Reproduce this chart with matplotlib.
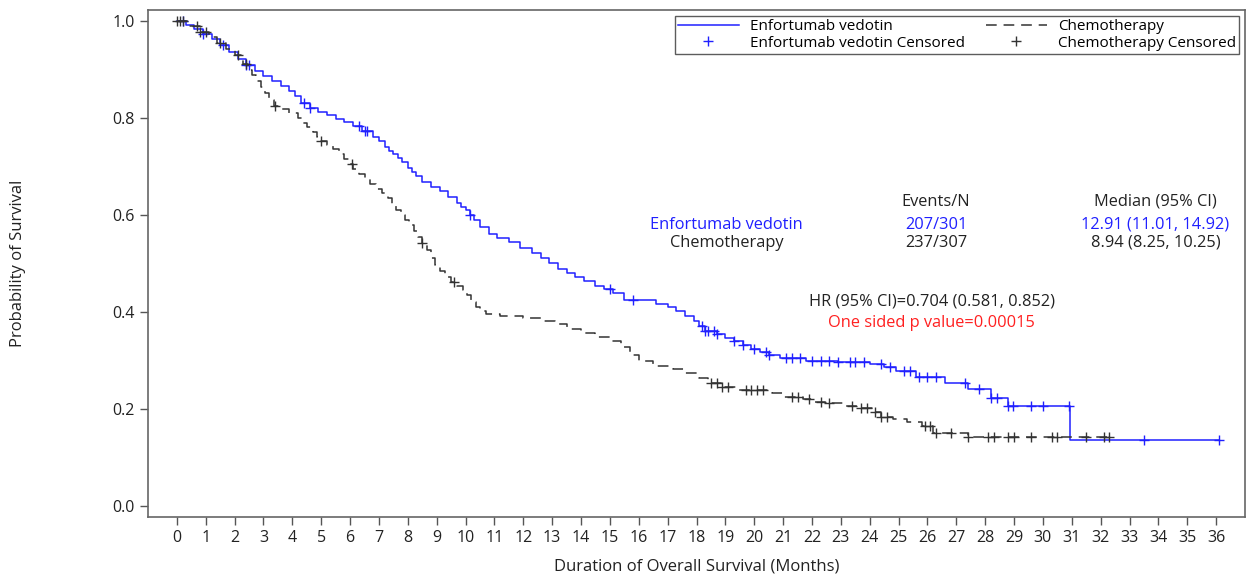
import matplotlib.pyplot as plt
import numpy as np

plt.rcParams['font.family'] = ['Open Sans', 'DejaVu Sans']

# Kaplan-Meier steps (months, survival)
ev_t = [0, 0.3, 0.6, 0.9, 1.2, 1.5, 1.8, 2.1, 2.4, 2.7, 3.0, 3.3, 3.6, 3.9, 4.1, 4.3, 4.6, 4.9,
        5.2, 5.5, 5.8, 6.1, 6.4, 6.8, 7.0, 7.2, 7.35, 7.5, 7.65, 7.8, 8.0, 8.15, 8.3, 8.5, 8.8,
        9.1, 9.4, 9.7, 9.85, 10.0, 10.15, 10.3, 10.5, 10.8, 11.1, 11.5, 11.9, 12.3, 12.6, 12.9,
        13.2, 13.5, 13.8, 14.1, 14.5, 14.8, 15.1, 15.5, 16.6, 17.0, 17.3, 17.6, 17.9, 18.1,
        18.3, 18.7, 19.0, 19.3, 19.6, 19.9, 20.2, 20.5, 20.9, 21.8, 22.9, 24.0, 24.5, 24.9,
        25.6, 26.6, 27.4, 28.2, 28.8, 30.94]
ev_s = [1.0, 0.993, 0.983, 0.973, 0.963, 0.95, 0.937, 0.923, 0.91, 0.897, 0.887, 0.877, 0.867,
        0.857, 0.845, 0.832, 0.82, 0.812, 0.806, 0.799, 0.792, 0.784, 0.773, 0.762, 0.752, 0.74,
        0.733, 0.726, 0.718, 0.71, 0.698, 0.69, 0.681, 0.668, 0.658, 0.65, 0.638, 0.625, 0.618,
        0.61, 0.6, 0.59, 0.575, 0.562, 0.553, 0.545, 0.533, 0.522, 0.512, 0.501, 0.49, 0.481,
        0.472, 0.465, 0.455, 0.448, 0.44, 0.426, 0.418, 0.41, 0.402, 0.393, 0.383, 0.372, 0.362,
        0.355, 0.348, 0.34, 0.333, 0.325, 0.318, 0.312, 0.306, 0.3, 0.298, 0.293, 0.287, 0.278,
        0.267, 0.255, 0.241, 0.224, 0.206, 0.136]
ev_end = 36.1

ch_t = [0, 0.4, 0.8, 1.1, 1.4, 1.7, 2.0, 2.3, 2.45, 2.6, 2.75, 2.9, 3.05, 3.2, 3.35, 3.6, 3.9,
        4.2, 4.35, 4.5, 4.7, 4.85, 5.0, 5.2, 5.4, 5.6, 5.8, 5.95, 6.1, 6.3, 6.5, 6.7, 6.9, 7.1,
        7.3, 7.45, 7.6, 7.75, 7.9, 8.05, 8.2, 8.35, 8.5, 8.65, 8.8, 8.95, 9.1, 9.3, 9.5, 9.7,
        9.9, 10.05, 10.2, 10.35, 10.5, 10.7, 11.2, 12.0, 12.6, 13.1, 13.5, 14.0, 14.5, 15.0,
        15.4, 15.7, 16.0, 16.5, 17.2, 17.6, 18.1, 18.4, 18.9, 19.4, 20.6, 21.0, 21.7, 22.1,
        22.6, 23.1, 23.6, 24.1, 24.4, 24.8, 25.3, 25.8, 26.2, 27.4]
ch_s = [1.0, 0.99, 0.978, 0.968, 0.955, 0.943, 0.93, 0.912, 0.9, 0.89, 0.877, 0.864, 0.852,
        0.838, 0.826, 0.818, 0.81, 0.8, 0.79, 0.782, 0.772, 0.762, 0.752, 0.745, 0.736, 0.726,
        0.715, 0.705, 0.695, 0.685, 0.676, 0.665, 0.655, 0.645, 0.635, 0.622, 0.611, 0.6, 0.59,
        0.58, 0.568, 0.555, 0.543, 0.528, 0.512, 0.497, 0.485, 0.473, 0.462, 0.455, 0.445,
        0.435, 0.422, 0.41, 0.402, 0.396, 0.393, 0.388, 0.382, 0.376, 0.366, 0.358, 0.35, 0.34,
        0.328, 0.312, 0.3, 0.29, 0.283, 0.275, 0.265, 0.255, 0.247, 0.24, 0.233, 0.226, 0.221,
        0.216, 0.212, 0.207, 0.203, 0.195, 0.185, 0.179, 0.173, 0.165, 0.152, 0.143]
ch_end = 32.4

ev_cens = [0.2, 0.9, 1.6, 2.4, 2.5, 4.4, 4.6, 6.3, 6.5, 6.6, 10.15, 15.0, 15.8, 18.2, 18.3, 18.4,
           18.6, 18.7, 19.3, 19.6, 20.0, 20.4, 20.5, 21.1, 21.3, 21.6, 22.0, 22.3, 22.6, 22.9,
           23.3, 23.5, 23.8, 24.4, 24.7, 25.2, 25.4, 25.7, 26.0, 26.3, 27.3, 27.8, 28.2, 28.4,
           28.8, 28.95, 29.6, 30.0, 30.9, 33.5, 36.1]
ch_cens = [0.0, 0.1, 0.2, 0.7, 0.8, 1.0, 1.5, 2.1, 2.4, 3.4, 5.0, 6.05, 8.5, 9.6, 18.5, 18.7,
           18.9, 19.1, 19.7, 19.9, 20.1, 20.3, 21.3, 21.5, 21.9, 22.3, 22.6, 23.4, 23.7, 23.9,
           24.2, 24.4, 24.6, 25.9, 26.1, 26.3, 26.8, 27.4, 28.1, 28.3, 28.8, 29.0, 29.6, 30.3,
           30.5, 31.5, 32.1, 32.3]


def surv_at(t_steps, s_steps, times):
    idx = np.searchsorted(t_steps, times, side='right') - 1
    return np.array(s_steps)[np.clip(idx, 0, None)]


blue = '#2020ff'
dark = '#333333'

fig = plt.figure(figsize=(12.47, 5.78), dpi=100)
ax = fig.add_axes([0.1187, 0.1055, 0.8797, 0.8772])

ax.step(ev_t + [ev_end], ev_s + [ev_s[-1]], where='post', color=blue, lw=1.1,
        label='Enfortumab vedotin')
ax.plot(ev_cens, surv_at(ev_t, ev_s, ev_cens), ls='none', marker='+', ms=7, mew=1.0,
        color=blue, label='Enfortumab vedotin Censored')
ax.step(ch_t + [ch_end], ch_s + [ch_s[-1]], where='post', color=dark, lw=1.1,
        dashes=(7, 4.5), label='Chemotherapy')
ax.plot(ch_cens, surv_at(ch_t, ch_s, ch_cens), ls='none', marker='+', ms=7, mew=1.0,
        color=dark, label='Chemotherapy Censored')

ax.set_xlim(-1, 37)
ax.set_ylim(-0.022, 1.023)
ax.set_xticks(range(0, 37))
ax.set_yticks([0.0, 0.2, 0.4, 0.6, 0.8, 1.0])
ax.set_yticklabels(['0.0', '0.2', '0.4', '0.6', '0.8', '1.0'])
ax.tick_params(direction='out', length=6, width=1, colors='#555555', labelcolor='#222222',
               labelsize=11.5)
for sp in ax.spines.values():
    sp.set_color('#666666')
    sp.set_linewidth(1.2)

ax.set_xlabel('Duration of Overall Survival (Months)', fontsize=12, color='#222222',
              labelpad=9)
ax.set_ylabel('Probability of Survival', fontsize=12, color='#222222', labelpad=62)

# statistics table
fs = 11.8
ax.text(26.3, 0.628, 'Events/N', ha='center', va='center', fontsize=fs, color='#222222')
ax.text(33.9, 0.628, 'Median (95% CI)', ha='center', va='center', fontsize=fs, color='#222222')
ax.text(19.05, 0.58, 'Enfortumab vedotin', ha='center', va='center', fontsize=fs, color=blue)
ax.text(26.3, 0.58, '207/301', ha='center', va='center', fontsize=fs, color=blue)
ax.text(33.9, 0.58, '12.91 (11.01, 14.92)', ha='center', va='center', fontsize=fs, color=blue)
ax.text(19.05, 0.543, 'Chemotherapy', ha='center', va='center', fontsize=fs, color='#222222')
ax.text(26.3, 0.543, '237/307', ha='center', va='center', fontsize=fs, color='#222222')
ax.text(33.9, 0.543, '8.94 (8.25, 10.25)', ha='center', va='center', fontsize=fs,
        color='#222222')
ax.text(26.15, 0.422, 'HR (95% CI)=0.704 (0.581, 0.852)', ha='center', va='center',
        fontsize=fs, color='#222222')
ax.text(26.15, 0.377, 'One sided p value=0.00015', ha='center', va='center', fontsize=fs,
        color='#ff2020')

leg = ax.legend(loc='upper right', ncol=2, fontsize=11, frameon=True, fancybox=False,
                edgecolor='#333333', borderaxespad=0.4, handlelength=4.0, columnspacing=1.4,
                borderpad=0.2, labelspacing=0.1, handletextpad=0.7)
leg.get_frame().set_linewidth(1.0)

fig.savefig('out.png', dpi=100)
